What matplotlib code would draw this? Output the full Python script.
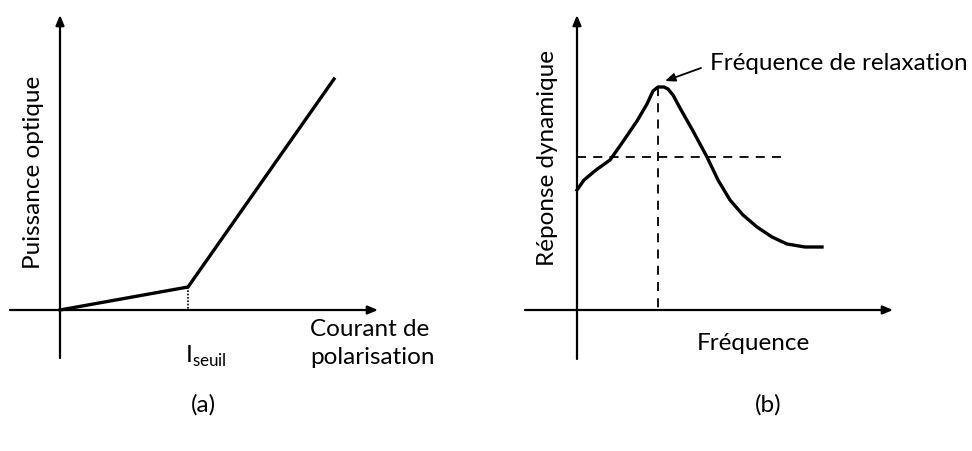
import matplotlib.pyplot as plt

# panel (a) : laser L-I characteristic (pixel-like coordinates, y downwards)
a_curve_x = [60, 188, 334]
a_curve_y = [310, 287, 79]
a_seuil_x = 188

# panel (b) : dynamic response
b_curve_x = [577, 584, 596, 610, 622, 637, 647, 653, 658, 664, 668, 673, 680,
             693, 707, 718, 730, 743, 757, 772, 787, 805, 822]
b_curve_y = [190, 180, 170, 160, 143, 121, 104, 91, 87, 87, 89, 95, 108,
             131, 157, 180, 200, 215, 227, 237, 244, 247, 247]
b_peak_x = 658
b_half_y = 157

fig = plt.figure(figsize=(9.72, 4.51), dpi=100)
ax = fig.add_axes([0, 0, 1, 1])
ax.set_xlim(0, 972)
ax.set_ylim(451, 0)
ax.axis('off')

font = ['Lato', 'DejaVu Sans']
fs = 17.5
arrow = dict(arrowstyle='-|>,head_length=0.6,head_width=0.25', lw=1.6,
             color='black', shrinkA=0, shrinkB=0)

# --- (a)
ax.annotate('', xy=(60, 15), xytext=(60, 358), arrowprops=arrow)
ax.annotate('', xy=(378, 310), xytext=(10, 310), arrowprops=arrow)
ax.plot(a_curve_x, a_curve_y, color='black', lw=2.4, solid_joinstyle='miter')
ax.plot([a_seuil_x, a_seuil_x], [a_curve_y[1], 310], color='black', lw=1.2,
        linestyle=(0, (1, 1)))
ax.text(185, 356, r'I$_{\mathregular{seuil}}$', fontsize=fs, family=font,
        ha='left', va='center')
ax.text(310, 330, 'Courant de', fontsize=fs, family=font, ha='left', va='center')
ax.text(310, 357, 'polarisation', fontsize=fs, family=font, ha='left', va='center')
ax.text(33, 172, 'Puissance optique', fontsize=fs, family=font, rotation=90,
        ha='center', va='center')
ax.text(203, 405, '(a)', fontsize=fs, family=font, ha='center', va='center')

# --- (b)
ax.annotate('', xy=(577, 15), xytext=(577, 359), arrowprops=arrow)
ax.annotate('', xy=(893, 310), xytext=(525, 310), arrowprops=arrow)
ax.plot(b_curve_x, b_curve_y, color='black', lw=2.4)
ax.plot([577, 788], [b_half_y, b_half_y], color='black', lw=1.3,
        linestyle=(0, (5, 4)))
ax.plot([b_peak_x, b_peak_x], [87, 310], color='black', lw=1.3,
        linestyle=(0, (5, 4)))
ax.annotate('', xy=(665, 81), xytext=(701, 68),
            arrowprops=dict(arrowstyle='-|>,head_length=0.6,head_width=0.25',
                            lw=1.3, color='black', shrinkA=0, shrinkB=0))
ax.text(710, 63, 'Fréquence de relaxation', fontsize=fs, family=font,
        ha='left', va='center')
ax.text(547, 158, 'Réponse dynamique', fontsize=fs, family=font, rotation=90,
        ha='center', va='center')
ax.text(753, 343, 'Fréquence', fontsize=fs, family=font, ha='center', va='center')
ax.text(768, 405, '(b)', fontsize=fs, family=font, ha='center', va='center')

fig.savefig('out.png', dpi=100, facecolor='white')
